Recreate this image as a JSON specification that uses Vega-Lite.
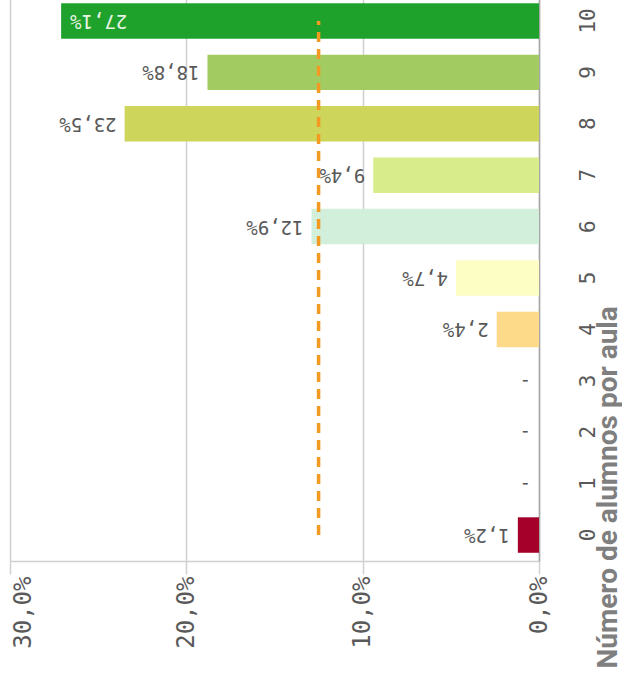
{
  "$schema": "https://vega.github.io/schema/vega-lite/v6.json",
  "width": 529,
  "height": 566,
  "autosize": {"type": "none"},
  "padding": {"left": 10, "top": -5, "right": 83, "bottom": 118},
  "background": "#ffffff",
  "config": {
    "view": {"stroke": null},
    "locale": {"number": {"decimal": ",", "thousands": ".", "grouping": [3], "currency": ["", " €"]}}
  },
  "datasets": {
    "bars": [
      {"n": 0, "v": 0.012, "c": "#a5002a"},
      {"n": 1, "v": 0, "c": "#ffffff"},
      {"n": 2, "v": 0, "c": "#ffffff"},
      {"n": 3, "v": 0, "c": "#ffffff"},
      {"n": 4, "v": 0.024, "c": "#fdd98a"},
      {"n": 5, "v": 0.047, "c": "#fdfec3"},
      {"n": 6, "v": 0.129, "c": "#d2efdb"},
      {"n": 7, "v": 0.094, "c": "#d9ec8c"},
      {"n": 8, "v": 0.235, "c": "#cdd55a"},
      {"n": 9, "v": 0.188, "c": "#a2cc62"},
      {"n": 10, "v": 0.271, "c": "#1fa22b"}
    ],
    "mean": [{"n": 0, "b": 10, "m": 0.125}]
  },
  "layer": [
    {
      "data": {"name": "bars"},
      "mark": {"type": "bar"},
      "encoding": {
        "y": {
          "field": "n", "type": "ordinal", "sort": [10, 9, 8, 7, 6, 5, 4, 3, 2, 1, 0],
          "scale": {"paddingInner": 0.31, "paddingOuter": 0.16},
          "axis": {
            "orient": "right", "title": "Número de alumnos por aula",
            "ticks": false, "grid": false,
            "domainColor": "#a6a6a6", "domainWidth": 1.5,
            "labelAngle": -90, "labelAlign": "center", "labelBaseline": "top",
            "labelPadding": 38, "labelFont": "DejaVu Sans Mono", "labelFontSize": 21,
            "labelColor": "#595959",
            "titleAngle": -90, "titleAlign": "left", "titleBaseline": "alphabetic",
            "titleX": 77, "titleY": 673,
            "titleFont": "Roboto", "titleFontSize": 28, "titleFontWeight": "bold",
            "titleColor": "#7f7f7f"
          }
        },
        "x": {
          "field": "v", "type": "quantitative",
          "scale": {"domain": [0, 0.3], "reverse": true},
          "axis": {
            "title": null, "values": [0, 0.1, 0.2, 0.3], "format": ".1%",
            "gridColor": "#d0d0d0", "gridWidth": 1.5,
            "domainColor": "#d0d0d0", "domainWidth": 1.5,
            "tickColor": "#d0d0d0", "tickWidth": 1.5, "tickSize": 13,
            "labelAngle": -90, "labelAlign": "right", "labelBaseline": "middle",
            "labelPadding": 2, "labelFont": "DejaVu Sans Mono", "labelFontSize": 24,
            "labelColor": "#595959", "labelFlush": false, "labelOverlap": false,
            "labelOffset": {"condition": {"test": "datum.value >= 0.29", "value": 13}, "value": 0}
          }
        },
        "color": {"field": "c", "type": "nominal", "scale": null}
      }
    },
    {
      "data": {"name": "mean"},
      "mark": {"type": "rule", "color": "#f39a22", "strokeWidth": 3.5, "strokeDash": [10, 7]},
      "encoding": {
        "x": {"field": "m", "type": "quantitative"},
        "y": {"field": "n", "type": "ordinal", "sort": [10, 9, 8, 7, 6, 5, 4, 3, 2, 1, 0]},
        "y2": {"field": "b"}
      }
    },
    {
      "data": {"name": "bars"},
      "transform": [{"filter": "datum.v < 0.25"}],
      "mark": {"type": "text", "angle": 180, "align": "left", "baseline": "middle", "dx": 8, "font": "DejaVu Sans Mono", "fontSize": 19, "color": "#595959"},
      "encoding": {
        "x": {"field": "v", "type": "quantitative"},
        "y": {"field": "n", "type": "ordinal", "sort": [10, 9, 8, 7, 6, 5, 4, 3, 2, 1, 0]},
        "text": {"condition": {"test": "datum.v === 0", "value": "-"}, "field": "v", "type": "quantitative", "format": ".1%"}
      }
    },
    {
      "data": {"name": "bars"},
      "transform": [{"filter": "datum.v >= 0.25"}],
      "mark": {"type": "text", "angle": 180, "align": "right", "baseline": "middle", "dx": -9, "font": "DejaVu Sans Mono", "fontSize": 19, "color": "#e8f4e4"},
      "encoding": {
        "x": {"field": "v", "type": "quantitative"},
        "y": {"field": "n", "type": "ordinal", "sort": [10, 9, 8, 7, 6, 5, 4, 3, 2, 1, 0]},
        "text": {"field": "v", "type": "quantitative", "format": ".1%"}
      }
    }
  ]
}
